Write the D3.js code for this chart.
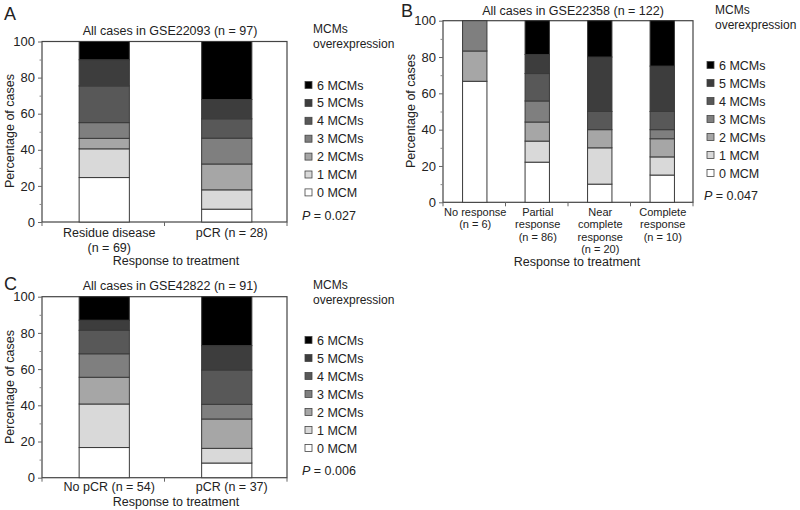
<!DOCTYPE html>
<html><head><meta charset="utf-8">
<script src="https://cdn.jsdelivr.net/npm/d3@7"></script>
<style>body{margin:0;background:#fff;} text{font-family:"Liberation Sans",Arial,sans-serif;fill:#222;}</style>
</head><body>
<svg id="chart" width="800" height="510"></svg>
<script>
// ---------- DATA ----------
const legendKeys = ["0 MCM","1 MCM","2 MCMs","3 MCMs","4 MCMs","5 MCMs","6 MCMs"];
const yTicks = [0,20,40,60,80,100];

// Panel A: GSE22093 (percent of cases, stacked 0..6 MCMs)
const catsA = [["Residue disease","(n = 69)"],["pCR (n = 28)"]];
const residueA = [24.6,15.9,5.8,8.7,20.3,14.5,10.1];
const pcrA     = [7.1,10.7,14.3,14.3,10.7,10.7,32.1];

// Panel B: GSE22358
const catsB = [["No response","(n = 6)"],["Partial","response","(n = 86)"],["Near","complete","response","(n = 20)"],["Complete","response","(n = 10)"]];
const noRespB   = [66.7,0,16.7,16.7,0,0,0];
const partialB  = [22.1,11.6,10.5,11.6,15.1,10.5,18.6];
const nearB     = [10,20,10,0,10,30,20];
const completeB = [15,10,10,5,10,25,25];

// Panel C: GSE42822
const catsC = [["No pCR (n = 54)"],["pCR (n = 37)"]];
const noPcrC = [16.7,24.1,14.8,13.0,13.0,5.6,13.0];
const pcrC   = [8.1,8.1,16.2,8.1,18.9,13.5,27.0];

const titles = ["All cases in GSE22093 (n = 97)","All cases in GSE22358 (n = 122)","All cases in GSE42822 (n = 91)"];
const pValues = ["0.027","0.047","0.006"];

// ---------- STYLE ----------
const colors = ["#ffffff","#d9d9d9","#a6a6a6","#7f7f7f","#585858","#3d3d3d","#000000"];
const svg = d3.select("#chart");

function drawPanel(cfg){
  const g = svg.append("g");
  const {x0,x1,y0,y1} = cfg.frame;
  const names = cfg.cats.map(c=>c.join(" "));
  const rows = cfg.series.map((s,i)=>{const o={name:names[i]}; legendKeys.forEach((k,j)=>o[k]=s[j]); return o;});
  const stack = d3.stack().keys(legendKeys).offset(d3.stackOffsetExpand)(rows);
  const x = d3.scaleBand().domain(names).range([x0,x1]).paddingInner(0).paddingOuter(0);
  const y = d3.scaleLinear().domain([0,100]).range([y1,y0]);
  const bw = x.bandwidth()*cfg.barFrac;

  // frame
  g.append("rect").attr("x",x0).attr("y",y0).attr("width",x1-x0).attr("height",y1-y0)
    .attr("fill","none").attr("stroke","#444").attr("stroke-width",1.2);

  // bars
  stack.forEach((layer,li)=>{
    layer.forEach(d=>{
      const top=y(d[1]*100), bot=y(d[0]*100);
      if (bot-top < 0.01) return;
      g.append("rect").attr("x",x(d.data.name)+x.bandwidth()/2-bw/2+cfg.barShift).attr("y",top)
        .attr("width",bw).attr("height",bot-top)
        .attr("fill",colors[li]).attr("stroke","#3a3a3a").attr("stroke-width",1);
    });
  });

  // y axis
  const ya = d3.axisLeft(y).tickValues(yTicks).tickSize(4).tickPadding(3).tickFormat(d3.format("d"));
  const yg = g.append("g").attr("transform",`translate(${x0},0)`).call(ya);
  yg.select(".domain").remove();
  yg.selectAll("line").attr("stroke","#666");
  yg.selectAll("text").style("font-size","13px").attr("fill","#222");
  // minor ticks
  const yb = d3.axisLeft(y).tickValues([10,30,50,70,90]).tickSize(2.5).tickFormat("");
  const ym = g.append("g").attr("transform",`translate(${x0},0)`).call(yb);
  ym.select(".domain").remove(); ym.selectAll("line").attr("stroke","#888");

  // x axis boundary ticks
  const bounds = names.map(n=>x(n)).concat([x1]);
  g.selectAll(".xt").data(bounds).join("line").attr("x1",d=>d).attr("x2",d=>d)
    .attr("y1",y1).attr("y2",y1+4).attr("stroke","#666");

  // x labels
  names.forEach((n,i)=>{
    const t = g.append("text").attr("text-anchor","middle").style("font-size",cfg.xFont+"px");
    cfg.cats[i].forEach((line,j)=>{
      t.append("tspan").attr("x",x(n)+x.bandwidth()/2+cfg.labelShift).attr("y",cfg.xLabelY+j*cfg.xLineH).text(line);
    });
  });

  // axis titles
  g.append("text").attr("x",cfg.xTitle[0]).attr("y",cfg.xTitle[1]).attr("text-anchor","middle")
    .style("font-size","12.5px").text("Response to treatment");
  g.append("text").attr("transform",`translate(${cfg.yTitle[0]},${cfg.yTitle[1]}) rotate(-90)`)
    .attr("text-anchor","middle").style("font-size","12.5px").text("Percentage of cases");

  // chart title and letter
  g.append("text").attr("x",cfg.titlePos[0]).attr("y",cfg.titlePos[1]).attr("text-anchor","middle")
    .style("font-size","12.5px").text(cfg.title);
  g.append("text").attr("x",cfg.letterPos[0]).attr("y",cfg.letterPos[1]).style("font-size","18px").text(cfg.letter);

  // legend
  const L = cfg.legend;
  g.append("text").attr("x",L.x+8).attr("y",L.headY).style("font-size","12px").text("MCMs");
  g.append("text").attr("x",L.x+8).attr("y",L.headY+15).style("font-size","12px").text("overexpression");
  const order = legendKeys.slice().reverse();
  order.forEach((k,i)=>{
    const cy = L.y0 + i*L.dy;
    const ci = legendKeys.indexOf(k);
    g.append("rect").attr("x",L.x).attr("y",cy-3.5).attr("width",7).attr("height",7)
      .attr("fill",colors[ci]).attr("stroke","#444").attr("stroke-width",0.8);
    g.append("text").attr("x",L.x+12).attr("y",cy+4.5).style("font-size","12.5px").text(k);
  });
  const p = g.append("text").attr("x",L.x-3).attr("y",L.pY).style("font-size","12.5px");
  p.append("tspan").style("font-style","italic").text("P");
  p.append("tspan").text(" = "+cfg.p);
}

drawPanel({letter:"A",title:titles[0],p:pValues[0],cats:catsA,series:[residueA,pcrA],
  frame:{x0:42,x1:287,y0:41.5,y1:222},barFrac:0.41,barShift:1,labelShift:6,
  xFont:12.5,xLabelY:237,xLineH:14.5,xTitle:[176,265],yTitle:[14,131],
  titlePos:[170,35],letterPos:[4,20],
  legend:{x:305,headY:33,y0:85,dy:17.9,pY:220}});

drawPanel({letter:"B",title:titles[1],p:pValues[1],cats:catsB,series:[noRespB,partialB,nearB,completeB],
  frame:{x0:443,x1:693,y0:20.7,y1:202.3},barFrac:0.39,barShift:0.5,labelShift:1,
  xFont:11,xLabelY:216,xLineH:12.3,xTitle:[577,266],yTitle:[415,111],
  titlePos:[573,15],letterPos:[401,17],
  legend:{x:707,headY:14,y0:65,dy:18,pY:200}});

drawPanel({letter:"C",title:titles[2],p:pValues[2],cats:catsC,series:[noPcrC,pcrC],
  frame:{x0:42,x1:287,y0:296.7,y1:477.7},barFrac:0.41,barShift:1,labelShift:6,
  xFont:12.5,xLabelY:491,xLineH:14.5,xTitle:[176,506],yTitle:[14,387],
  titlePos:[170,290],letterPos:[4,290],
  legend:{x:305,headY:289,y0:340,dy:18,pY:475}});
</script>
</body></html>
